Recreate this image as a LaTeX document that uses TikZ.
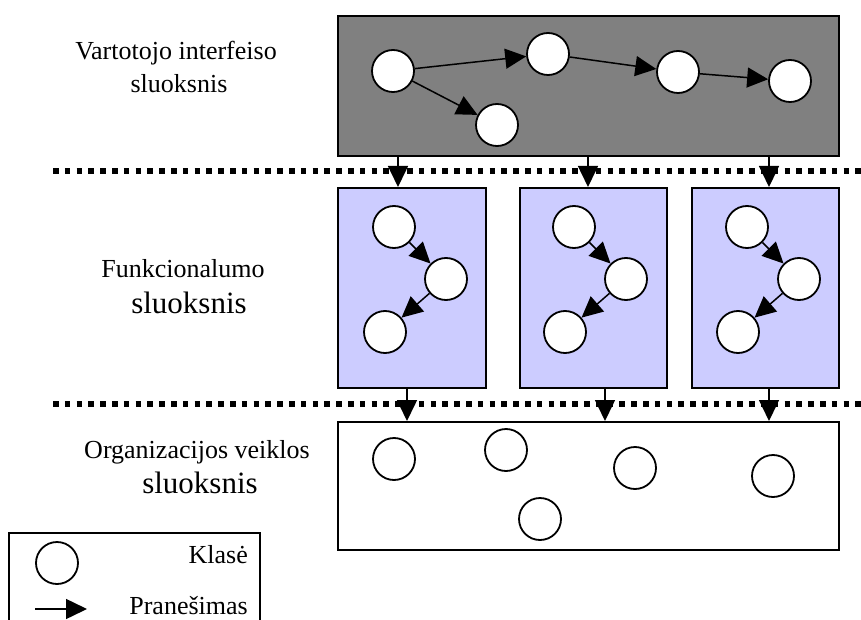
\documentclass[tikz,border=0pt]{standalone}
\usepackage{fontspec}
\setmainfont{Liberation Serif}
\usetikzlibrary{arrows.meta}
\definecolor{uigray}{RGB}{128,128,128}
\definecolor{funcblue}{RGB}{204,204,255}

\begin{document}
\begin{tikzpicture}[x=1pt,y=-1pt,
  cls/.style={circle,draw,line width=1.8pt,fill=white,minimum size=42pt,inner sep=0pt},
  msg/.style={-{Triangle[length=21pt,width=20pt]},line width=1.5pt},
  layer/.style={draw,line width=1.8pt,inner sep=0pt,anchor=north west},
  sep/.style={line width=5.5pt,dash pattern=on 5.5pt off 6.3pt},
  lbl/.style={font=\fontsize{26}{31}\selectfont,inner sep=0pt,anchor=base},
  big/.style={font=\fontsize{31}{36}\selectfont,inner sep=0pt,anchor=base}]
\useasboundingbox (0,0) rectangle (861,620);

% layer separators
\draw[sep] (53,171) -- (861,171);
\draw[sep] (53,404) -- (861,404);

% layer names
\node[lbl] (t1a) at (176,60) {Vartotojo interfeiso};
\node[lbl] (t1b) at (179,93) {sluoksnis};
\node[lbl] (t2a) at (183,277) {Funkcionalumo};
\node[big] (t2b) at (189,313) {sluoksnis};
\node[lbl] (t3a) at (197,458) {Organizacijos veiklos};
\node[big] (t3b) at (200,493) {sluoksnis};

% user interface layer
\node[layer,fill=uigray,minimum width=501pt,minimum height=140pt] (ui) at (337,15) {};
\node[cls] (u1) at (393,71) {};
\node[cls] (u2) at (548,54) {};
\node[cls] (u3) at (678,72) {};
\node[cls] (u4) at (790,81) {};
\node[cls] (u5) at (497,125) {};
\draw[msg] (u1) -- (u2);
\draw[msg] (u2) -- (u3);
\draw[msg] (u3) -- (u4);
\draw[msg] (u1) -- (u5);

% functionality layer
\node[layer,fill=funcblue,minimum width=148pt,minimum height=200pt] (f1) at (337,187) {};
\node[layer,fill=funcblue,minimum width=147pt,minimum height=200pt] (f2) at (519,187) {};
\node[layer,fill=funcblue,minimum width=147pt,minimum height=200pt] (f3) at (691,187) {};
\foreach \k/\x in {1/394,2/574,3/747}{
  \node[cls] (fa\k) at (\x,227) {};
  \node[cls] (fb\k) at (\x+52,279) {};
  \node[cls] (fc\k) at (\x-9,332) {};
  \draw[msg] (fa\k) -- (fb\k);
  \draw[msg] (fb\k) -- (fc\k);
}

% business layer
\node[layer,fill=white,minimum width=501pt,minimum height=128pt] (org) at (337,421) {};
\node[cls] (o1) at (394,459) {};
\node[cls] (o2) at (506,450) {};
\node[cls] (o3) at (635,468) {};
\node[cls] (o4) at (773,476) {};
\node[cls] (o5) at (540,519) {};

% calls between layers
\draw[msg] (ui.south -| 398,0) -- (f1.north -| 398,0);
\draw[msg] (ui.south -| 588,0) -- (f2.north -| 588,0);
\draw[msg] (ui.south -| 769,0) -- (f3.north -| 769,0);
\draw[msg] (f1.south -| 407,0) -- (org.north -| 407,0);
\draw[msg] (f2.south -| 605,0) -- (org.north -| 605,0);
\draw[msg] (f3.south -| 769,0) -- (org.north -| 769,0);

% legend
\draw[line width=1.8pt] (9,621) -- (9,533) -- (260,533) -- (260,621);
\node[cls] (lc) at (57,563) {};
\node[lbl,anchor=base east] (lk) at (248,563) {Klasė};
\coordinate (la) at (35,609);
\coordinate (lb) at (87,609);
\draw[msg] (la) -- (lb);
\node[lbl,anchor=base east] (lp) at (248,614) {Pranešimas};
\end{tikzpicture}
\end{document}
